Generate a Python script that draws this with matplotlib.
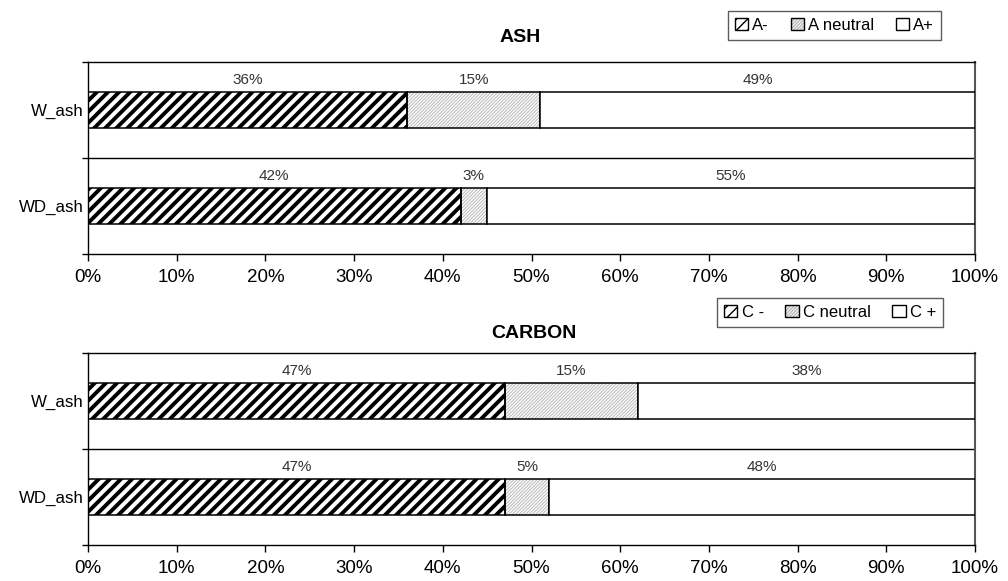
import matplotlib
matplotlib.use("Agg")
import matplotlib.pyplot as plt
from matplotlib.patches import Patch
from matplotlib.legend_handler import HandlerTuple

plt.rcParams['font.family'] = ['Liberation Sans', 'DejaVu Sans']

categories = ["W_ash", "WD_ash"]
ash_neg = [36, 42]
ash_neu = [15, 3]
ash_pos = [49, 55]
carbon_neg = [47, 47]
carbon_neu = [15, 5]
carbon_pos = [38, 48]
x_ticks = [0, 10, 20, 30, 40, 50, 60, 70, 80, 90, 100]

panels = [
    dict(title="ASH", labels=["A-", "A neutral", "A+"],
         values=[ash_neg, ash_neu, ash_pos]),
    dict(title="CARBON", labels=["C -", "C neutral", "C +"],
         values=[carbon_neg, carbon_neu, carbon_pos]),
]

# fill / hatch styles for the three segments
styles = [
    dict(hatch="///", hcolor="black", hlw=2.8),
    dict(hatch="//////////", hcolor="#b8b8b8", hlw=0.7),
    dict(hatch=None, hcolor="black", hlw=1.0),
]

fig = plt.figure(figsize=(10.08, 5.81), dpi=100)
axes_rects = [
    [88 / 1008, 1 - 254 / 581, (975 - 88) / 1008, (254 - 62) / 581],
    [88 / 1008, 1 - 545 / 581, (975 - 88) / 1008, (545 - 353) / 581],
]
title_pos = [(520 / 1008, 1 - 38 / 581), (534 / 1008, 1 - 334 / 581)]
legend_anchor = [(941 / 1008, 1 - 11 / 581), (943 / 1008, 1 - 298 / 581)]

bar_h = 0.385
for p, rect, tpos, lanchor in zip(panels, axes_rects, title_pos, legend_anchor):
    ax = fig.add_axes(rect)
    ypos = [1.5 - i for i in range(len(categories))]
    left = [0.0] * len(categories)
    handles = []
    for vals, st in zip(p["values"], styles):
        vals_f = [v / 100 for v in vals]
        with plt.rc_context({'hatch.linewidth': st["hlw"]}):
            if st["hatch"]:
                hb = ax.barh(ypos, vals_f, left=left, height=bar_h,
                             color="white", edgecolor=st["hcolor"],
                             hatch=st["hatch"], linewidth=0, zorder=2)
                for b in hb:
                    if hasattr(b, "set_hatch_linewidth"):
                        b.set_hatch_linewidth(st["hlw"])
            ax.barh(ypos, vals_f, left=left, height=bar_h,
                    facecolor="none" if st["hatch"] else "white",
                    edgecolor="black", linewidth=1.1, zorder=3)
        for y, l, v in zip(ypos, left, vals_f):
            ax.text(l + v / 2, y + bar_h / 2 + 0.05, f"{round(v * 100)}%",
                    ha="center", va="bottom", fontsize=11, color="#333333")
        # legend handle: hatch layer + outline layer
        hp = Patch(facecolor="white", edgecolor=st["hcolor"],
                   hatch=st["hatch"], linewidth=0)
        if hasattr(hp, "set_hatch_linewidth"):
            hp.set_hatch_linewidth(st["hlw"])
        op = Patch(facecolor="none", edgecolor="black", linewidth=1.0)
        handles.append((hp, op))
        left = [l + v for l, v in zip(left, vals_f)]

    ax.set_xlim(0, 1)
    ax.set_ylim(0, 2)
    ax.set_xticks([t / 100 for t in x_ticks])
    ax.set_xticklabels([f"{t}%" for t in x_ticks], fontsize=13.5)
    ax.tick_params(axis="x", direction="out", length=5, width=1, pad=6)

    ax.set_yticks([0, 1, 2])
    ax.set_yticklabels([])
    ax.tick_params(axis="y", which="major", direction="out", length=4, width=1)
    ax.set_yticks(ypos, minor=True)
    ax.set_yticklabels(categories, minor=True, fontsize=12.2)
    ax.tick_params(axis="y", which="minor", length=0, pad=3)

    ax.axhline(1, color="black", linewidth=1.0, zorder=1)
    for s in ax.spines.values():
        s.set_color("black")
        s.set_linewidth(1.0)
    ax.spines["right"].set_color("#555555")
    ax.spines["right"].set_linewidth(1.5)

    fig.text(tpos[0], tpos[1], p["title"], ha="center", va="center",
             fontsize=14, fontweight="bold")

    leg = fig.legend(handles, p["labels"], loc="upper right",
                     bbox_to_anchor=lanchor, bbox_transform=fig.transFigure,
                     ncol=3, fontsize=12, frameon=True, fancybox=False,
                     handlelength=0.8, handleheight=0.8, handletextpad=0.25,
                     columnspacing=1.3, borderpad=0.4, borderaxespad=0,
                     handler_map={tuple: HandlerTuple(ndivide=1)})
    leg.get_frame().set_edgecolor("#333333")
    leg.get_frame().set_linewidth(1.0)

fig.savefig("out.png", dpi=100)
